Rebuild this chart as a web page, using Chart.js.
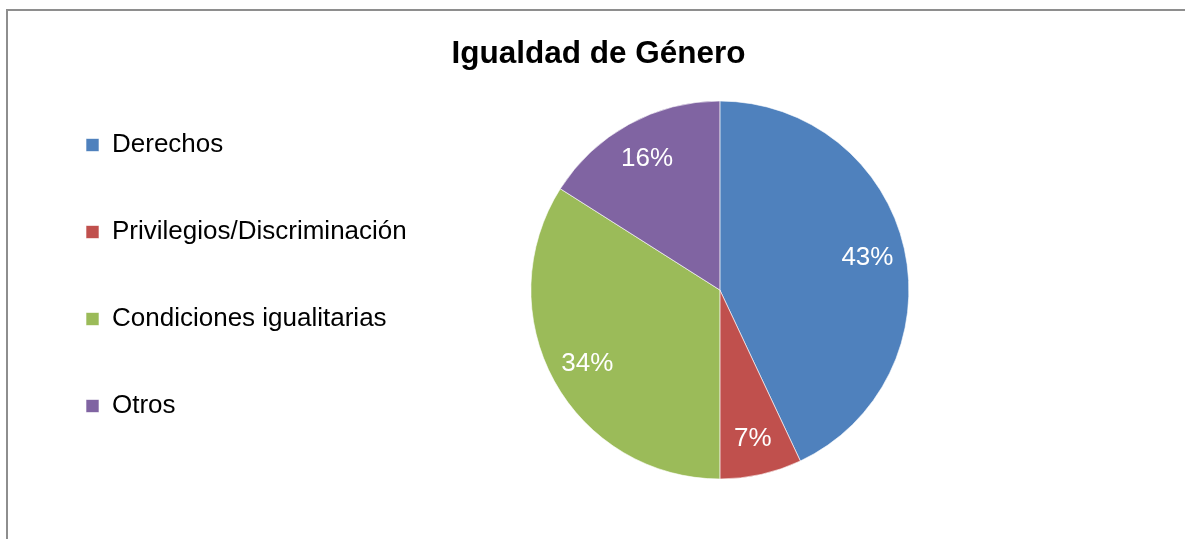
<!DOCTYPE html>
<html lang="es">
<head>
<meta charset="utf-8">
<title>Igualdad de Género</title>
<script src="https://cdn.jsdelivr.net/npm/chart.js@4.4.1/dist/chart.umd.min.js"></script>
<style>
    html, body {
        margin: 0;
        padding: 0;
        background: #ffffff;
    }
    .frame {
        position: absolute;
        left: 6px;
        top: 9px;
        width: 1300px;
        height: 700px;
        border-left: 2px solid #8e8e8e;
        border-top: 2px solid #8e8e8e;
    }
    .chart-box {
        position: absolute;
        left: 0;
        top: 0;
        width: 1185px;
        height: 539px;
    }
</style>
</head>
<body>
<div class="frame"></div>
<div class="chart-box">
    <canvas id="genderChart"></canvas>
</div>
<script>
const chartTitle = 'Igualdad de Género';
const categories = ['Derechos', 'Privilegios/Discriminación', 'Condiciones igualitarias', 'Otros'];
const shares = [43, 7, 34, 16];
const sliceColors = ['#4f81bd', '#c0504d', '#9bbb59', '#8064a2'];

const fontFamily = "'Liberation Sans', Arial, sans-serif";
Chart.defaults.font.family = fontFamily;
Chart.defaults.color = '#000000';

// title is centred on the whole frame, not on the area left of the legend
const frameTitle = {
    id: 'frameTitle',
    afterDraw(chart) {
        const { ctx } = chart;
        ctx.save();
        ctx.font = 'bold 31.5px ' + fontFamily;
        ctx.fillStyle = '#000000';
        ctx.textAlign = 'center';
        ctx.textBaseline = 'middle';
        ctx.fillText(chartTitle, chart.width / 2 + 6, 54);
        ctx.restore();
    },
};

// percentage labels inside each slice
const sliceLabels = {
    id: 'sliceLabels',
    afterDatasetsDraw(chart) {
        const { ctx } = chart;
        const meta = chart.getDatasetMeta(0);
        ctx.save();
        ctx.font = '26px ' + fontFamily;
        ctx.fillStyle = '#ffffff';
        ctx.textAlign = 'center';
        ctx.textBaseline = 'middle';
        meta.data.forEach((arc, index) => {
            const { x, y, startAngle, endAngle, outerRadius } = arc.getProps(['x', 'y', 'startAngle', 'endAngle', 'outerRadius'], true);
            const mid = (startAngle + endAngle) / 2;
            const r = outerRadius * 0.8;
            ctx.fillText(shares[index] + '%', x + Math.cos(mid) * r, y + Math.sin(mid) * r + 1);
        });
        ctx.restore();
    },
};

new Chart(document.getElementById('genderChart'), {
    type: 'pie',
    data: {
        labels: categories,
        datasets: [
            {
                data: shares,
                backgroundColor: sliceColors,
                borderColor: 'rgba(255,255,255,0.6)',
                borderWidth: 1,
            },
        ],
    },
    options: {
        responsive: true,
        maintainAspectRatio: false,
        animation: false,
        radius: 189,
        layout: {
            padding: { top: 71, bottom: 30, left: 25, right: 162 },
        },
        plugins: {
            title: { display: false },
            legend: {
                position: 'left',
                align: 'start',
                fullSize: false,
                labels: {
                    boxWidth: 13,
                    boxHeight: 13,
                    padding: 61,
                    font: { size: 26 },
                    color: '#000000',
                },
            },
            tooltip: { enabled: false },
        },
    },
    plugins: [sliceLabels, frameTitle],
});
</script>
</body>
</html>
